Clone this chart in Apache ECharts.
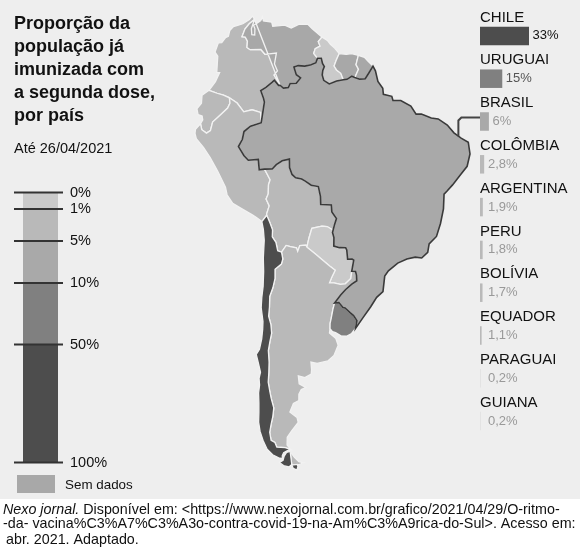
<!DOCTYPE html>
<html>
<head>
<meta charset="utf-8">
<script src="https://cdn.jsdelivr.net/npm/echarts@6/dist/echarts.min.js"></script>
<style>
  html, body { margin: 0; padding: 0; background: #fff; }
  #main { width: 580px; height: 550px; }
</style>
</head>
<body>
<div id="main"></div>
<script>
// dados
var paises = ['CHILE', 'URUGUAI', 'BRASIL', 'COLÔMBIA', 'ARGENTINA', 'PERU', 'BOLÍVIA', 'EQUADOR', 'PARAGUAI', 'GUIANA'];
var imunizados = [33, 15, 6, 2.8, 1.9, 1.8, 1.7, 1.1, 0.2, 0.2];
// faixa da legenda em que cada país aparece pintado no mapa
var faixa = [4, 3, 2, 1, 1, 1, 1, 1, 0, 0];
var semDados = ['VENEZUELA', 'SURINAME', 'GUIANA FRANCESA'];
var faixasLegenda = ['0%', '1%', '5%', '10%', '50%', '100%'];

var cores = ['#cacaca', '#b9b9b9', '#a9a9a9', '#808080', '#4d4d4d'];
var corSemDados = '#a8a8a8';
var corRotulo = ['#999', '#999', '#999', '#555', '#111'];
var FONT = 'Liberation Sans, Arial, sans-serif';

// contornos aproximados (lon, lat)
var coastCol = [[-71.33,11.85],[-71.7,12.45],[-72.2,11.9],[-73.3,11.3],[-74.2,11.1],[-74.9,11.0],[-75.5,10.4],[-75.7,9.5],[-76.2,9.3],[-76.8,8.6],[-77.4,8.6],[-77.9,7.2],[-77.4,6.5],[-77.5,4.0],[-77.0,3.9],[-77.7,2.6],[-78.8,1.4]];
var colEcu = [[-78.8,1.4],[-77.4,0.8],[-76.3,0.4],[-75.3,-0.1]];
var colPer = [[-75.3,-0.1],[-74.0,-1.0],[-72.9,-2.4],[-71.5,-2.2],[-70.1,-2.7],[-70.0,-4.2]];
var colBra = [[-70.0,-4.2],[-69.45,-1.2],[-69.6,-0.6],[-70.05,0.55],[-69.2,1.0],[-68.2,1.7],[-67.8,2.0],[-67.1,1.2],[-66.85,1.2]];
var colVen = [[-66.85,1.2],[-67.4,2.1],[-67.85,2.8],[-67.3,3.4],[-67.8,4.5],[-67.5,6.2],[-69.4,6.1],[-70.1,6.9],[-71.9,7.0],[-72.45,7.4],[-72.4,8.4],[-72.8,9.1],[-73.35,9.2],[-72.9,10.4],[-72.2,11.2],[-71.33,11.85]];
var coastVen = [[-71.33,11.85],[-71.6,11.0],[-71.8,10.4],[-71.7,9.4],[-71.2,9.3],[-71.2,10.3],[-71.45,10.9],[-71.0,11.1],[-70.25,11.6],[-70.0,12.2],[-69.8,11.5],[-68.4,11.2],[-68.2,10.5],[-66.2,10.6],[-65.1,10.1],[-64.2,10.5],[-63.8,10.7],[-62.3,10.6],[-61.6,9.9],[-60.0,8.55]];
var venGuy = [[-60.0,8.55],[-60.6,7.8],[-60.3,7.1],[-61.1,6.7],[-61.35,5.95],[-60.73,5.2]];
var venBra = [[-60.73,5.2],[-61.0,4.5],[-61.8,4.2],[-62.8,4.0],[-63.9,4.1],[-64.6,3.9],[-64.2,2.7],[-63.5,2.2],[-64.2,1.4],[-65.2,1.4],[-65.5,0.8],[-66.3,0.75],[-66.85,1.2]];
var coastGuy = [[-60.0,8.55],[-59.1,8.0],[-58.6,7.4],[-57.9,6.8],[-57.15,5.95]];
var guySur = [[-57.15,5.95],[-57.65,4.9],[-58.0,4.0],[-57.6,3.4],[-56.9,2.9],[-56.5,1.92]];
var guyBra = [[-56.5,1.92],[-57.6,1.7],[-58.8,1.25],[-59.7,1.8],[-59.95,2.6],[-59.85,3.3],[-59.6,3.9],[-59.9,4.4],[-60.1,5.2],[-60.73,5.2]];
var coastSur = [[-57.15,5.95],[-56.0,5.85],[-55.1,6.0],[-54.0,5.75]];
var surFg = [[-54.0,5.75],[-54.4,4.3],[-54.0,3.6],[-54.6,2.33]];
var surBra = [[-54.6,2.33],[-55.1,2.5],[-55.9,2.0],[-56.5,1.92]];
var coastFg = [[-54.0,5.75],[-53.0,5.5],[-52.4,4.9],[-51.6,4.2]];
var fgBra = [[-51.6,4.2],[-52.3,3.1],[-52.9,2.2],[-53.8,2.1],[-54.6,2.33]];
var coastEcu = [[-78.8,1.4],[-80.0,0.8],[-80.1,-0.4],[-80.9,-1.1],[-80.7,-2.0],[-80.0,-2.3],[-79.9,-2.9],[-80.3,-3.4]];
var ecuPer = [[-80.3,-3.4],[-80.1,-4.3],[-79.3,-4.9],[-78.6,-4.6],[-78.2,-3.4],[-77.0,-2.6],[-75.6,-1.6],[-75.2,-0.9],[-75.3,-0.1]];
var coastPer = [[-80.3,-3.4],[-81.2,-4.1],[-81.3,-4.7],[-81.1,-5.5],[-79.9,-6.9],[-78.8,-8.5],[-77.6,-10.6],[-76.4,-13.0],[-76.2,-14.1],[-75.3,-15.4],[-73.6,-16.4],[-72.0,-17.3],[-71.3,-17.7],[-70.4,-18.35]];
var perChl = [[-70.4,-18.35],[-69.5,-17.5]];
var perBol = [[-69.5,-17.5],[-69.5,-17.3],[-69.0,-16.2],[-69.5,-15.2],[-69.1,-14.5],[-69.0,-13.2],[-68.7,-12.5],[-69.6,-10.95]];
var perBra = [[-69.6,-10.95],[-70.5,-11.0],[-70.6,-9.5],[-72.3,-9.5],[-73.0,-8.8],[-73.9,-7.4],[-73.2,-6.4],[-72.9,-5.3],[-71.8,-4.6],[-70.0,-4.2]];
var bolBra = [[-69.6,-10.95],[-68.3,-11.0],[-67.6,-10.4],[-66.6,-9.9],[-65.4,-9.7],[-65.4,-10.9],[-65.0,-11.9],[-64.4,-12.4],[-63.4,-12.6],[-62.8,-12.9],[-61.8,-13.5],[-60.6,-13.7],[-60.25,-15.1],[-60.2,-16.25],[-58.4,-16.3],[-58.3,-17.3],[-57.5,-18.2],[-57.8,-19.0],[-58.16,-20.17]];
var bolPar = [[-58.16,-20.17],[-58.15,-19.8],[-59.1,-19.35],[-60.0,-19.3],[-61.75,-19.6],[-62.3,-21.05],[-62.65,-22.24]];
var bolArg = [[-62.65,-22.24],[-62.8,-21.95],[-63.9,-22.0],[-64.3,-22.8],[-64.5,-22.3],[-65.6,-22.1],[-66.3,-21.9],[-67.18,-22.82]];
var bolChl = [[-67.18,-22.82],[-67.85,-22.6],[-68.1,-21.4],[-68.7,-20.6],[-68.6,-19.6],[-69.0,-18.6],[-69.5,-17.5]];
var parBra = [[-58.16,-20.17],[-57.9,-20.9],[-57.9,-22.1],[-56.9,-22.3],[-55.8,-22.3],[-55.6,-22.6],[-55.4,-23.9],[-54.6,-23.85],[-54.3,-24.0],[-54.59,-25.59]];
var parArg = [[-54.59,-25.59],[-54.7,-26.6],[-55.7,-27.4],[-56.6,-27.5],[-57.8,-27.3],[-58.6,-27.3],[-58.2,-26.5],[-57.6,-25.5],[-58.6,-24.9],[-60.0,-24.0],[-61.2,-23.2],[-62.65,-22.24]];
var argBra = [[-54.59,-25.59],[-53.9,-25.6],[-53.7,-26.1],[-53.6,-26.9],[-54.5,-27.4],[-55.6,-28.2],[-56.5,-29.0],[-57.61,-30.18]];
var argUru = [[-57.61,-30.18],[-57.9,-31.1],[-58.2,-32.4],[-58.4,-33.1],[-58.4,-33.9]];
var coastArg = [[-58.4,-33.9],[-58.5,-34.5],[-57.2,-35.3],[-56.7,-36.3],[-57.5,-37.8],[-58.7,-38.6],[-61.0,-39.0],[-62.3,-38.8],[-62.2,-39.9],[-62.3,-40.6],[-63.7,-41.1],[-65.1,-40.8],[-65.0,-42.0],[-63.6,-42.6],[-64.6,-42.9],[-65.2,-43.6],[-65.3,-44.6],[-66.6,-45.0],[-67.6,-46.3],[-66.0,-47.2],[-65.8,-48.0],[-67.6,-49.3],[-68.9,-50.3],[-69.2,-51.6],[-68.4,-52.35]];
var chlArg = [[-68.4,-52.35],[-69.8,-52.0],[-72.0,-51.8],[-72.3,-51.0],[-73.2,-50.6],[-73.2,-49.3],[-72.5,-48.0],[-71.8,-46.8],[-71.3,-45.5],[-71.6,-44.0],[-71.7,-43.0],[-71.8,-41.5],[-71.4,-40.0],[-71.1,-38.5],[-71.0,-36.8],[-70.5,-35.5],[-70.0,-34.3],[-70.0,-33.0],[-70.3,-31.8],[-70.0,-30.5],[-69.8,-29.0],[-69.1,-27.8],[-68.6,-26.5],[-68.5,-25.2],[-67.3,-24.5],[-67.0,-23.8],[-67.18,-22.82]];
var uruBra = [[-57.61,-30.18],[-56.8,-30.1],[-56.0,-30.8],[-55.6,-30.85],[-54.6,-31.5],[-53.9,-31.9],[-53.2,-32.6],[-53.37,-33.74]];
var coastUru = [[-53.37,-33.74],[-54.1,-34.5],[-55.0,-34.9],[-56.2,-34.9],[-57.3,-34.45],[-57.9,-34.3],[-58.4,-33.9]];
var coastChl = [[-70.4,-18.35],[-70.2,-19.5],[-70.15,-21.0],[-70.5,-23.5],[-70.6,-25.4],[-70.9,-27.5],[-71.3,-29.0],[-71.6,-30.5],[-71.5,-32.5],[-71.7,-33.6],[-72.1,-35.0],[-72.8,-36.5],[-73.6,-37.2],[-73.4,-38.5],[-73.2,-39.9],[-73.7,-40.8],[-73.8,-41.8],[-74.3,-43.0],[-74.6,-44.5],[-75.0,-46.0],[-75.5,-47.5],[-75.6,-49.0],[-75.3,-50.5],[-74.7,-52.0],[-73.5,-53.0],[-72.0,-53.6],[-71.0,-53.8],[-70.9,-53.3],[-70.4,-52.8],[-69.3,-52.5],[-68.4,-52.35]];
var fogoChl = [[-68.6,-52.65],[-69.6,-52.8],[-70.4,-53.4],[-70.9,-54.1],[-72.0,-54.4],[-71.0,-55.0],[-69.5,-55.3],[-68.6,-54.9]];
var ilhasChl = [[-68.6,-55.0],[-67.0,-54.95],[-66.9,-55.3],[-67.3,-55.9],[-68.3,-55.6]];
var fogoArg = [[-68.6,-52.65],[-68.3,-53.0],[-67.6,-53.7],[-66.5,-54.5],[-65.2,-54.7],[-66.5,-55.0],[-68.6,-54.9]];
var coastBra = [[-51.6,4.2],[-51.2,3.5],[-50.8,1.9],[-50.0,0.9],[-49.9,0.0],[-48.5,-0.2],[-48.3,-0.8],[-47.0,-0.7],[-45.3,-1.4],[-44.4,-2.5],[-43.5,-2.4],[-41.8,-2.8],[-40.6,-2.8],[-39.0,-3.5],[-37.8,-4.5],[-36.5,-5.1],[-35.2,-5.5],[-34.8,-7.15],[-35.2,-9.0],[-36.4,-10.5],[-37.6,-12.0],[-38.5,-13.0],[-39.0,-13.5],[-38.9,-15.6],[-39.2,-17.7],[-39.7,-19.6],[-40.9,-20.8],[-41.0,-22.0],[-42.0,-22.9],[-43.2,-22.9],[-44.7,-23.3],[-46.3,-24.0],[-47.9,-25.2],[-48.5,-26.0],[-48.6,-28.2],[-49.7,-29.1],[-50.7,-30.5],[-52.1,-32.2],[-53.37,-33.74]];

function rev(a) { return a.slice().reverse(); }
function ring() { var r = [].concat.apply([], arguments); r.push(r[0]); return r; }
function fecha(a) { return a.concat([a[0]]); }
function feat(name, polys) {
  return { type: 'Feature', properties: { name: name },
    geometry: { type: 'MultiPolygon', coordinates: polys.map(function (p) { return [p]; }) } };
}

var geo = { type: 'FeatureCollection', features: [
  feat('COLÔMBIA', [ring(coastCol, colEcu, colPer, colBra, colVen)]),
  feat('VENEZUELA', [ring(coastVen, venGuy, venBra, rev(colVen))]),
  feat('GUIANA', [ring(coastGuy, guySur, guyBra, rev(venGuy))]),
  feat('SURINAME', [ring(coastSur, surFg, surBra, rev(guySur))]),
  feat('GUIANA FRANCESA', [ring(coastFg, fgBra, rev(surFg))]),
  feat('EQUADOR', [ring(coastEcu, ecuPer, rev(colEcu))]),
  feat('PERU', [ring(coastPer, perChl, perBol, perBra, rev(colPer), rev(ecuPer))]),
  feat('BOLÍVIA', [ring(bolBra, bolPar, bolArg, bolChl, perBol)]),
  feat('PARAGUAI', [ring(parBra, parArg, rev(bolPar))]),
  feat('ARGENTINA', [ring(argBra, argUru, coastArg, chlArg, rev(bolArg), rev(parArg)), fecha(fogoArg)]),
  feat('URUGUAI', [ring(uruBra, coastUru, rev(argUru))]),
  feat('CHILE', [ring(coastChl, chlArg, bolChl, rev(perChl)), fecha(fogoChl), fecha(ilhasChl)]),
  feat('BRASIL', [ring(coastBra, rev(uruBra), rev(argBra), rev(parBra), rev(bolBra), perBra, colBra, rev(venBra), rev(guyBra), rev(surBra), rev(fgBra))])
]};
echarts.registerMap('america-do-sul', geo);

// projeção ortográfica centrada na América do Sul
var LON0 = -60, LAT0 = -20, RAD = Math.PI / 180;
function project(p) {
  var lam = (p[0] - LON0) * RAD, phi = p[1] * RAD, phi0 = LAT0 * RAD;
  var x = Math.cos(phi) * Math.sin(lam);
  var y = Math.cos(phi0) * Math.sin(phi) - Math.sin(phi0) * Math.cos(phi) * Math.cos(lam);
  return [x, -y];
}
function unproject(q) {
  var x = q[0], y = -q[1], phi0 = LAT0 * RAD;
  var rho = Math.sqrt(x * x + y * y);
  if (rho === 0) return [LON0, LAT0];
  var c = Math.asin(Math.min(1, rho));
  var phi = Math.asin(Math.cos(c) * Math.sin(phi0) + y * Math.sin(c) * Math.cos(phi0) / rho);
  var lam = Math.atan2(x * Math.sin(c), rho * Math.cos(c) * Math.cos(phi0) - y * Math.sin(c) * Math.sin(phi0));
  return [LON0 + lam / RAD, phi / RAD];
}

var mapData = paises.map(function (p, i) {
  var d = { name: p, value: imunizados[i], itemStyle: { areaColor: cores[faixa[i]] } };
  if (p === 'BRASIL') d.itemStyle = { areaColor: cores[faixa[i]], borderColor: '#3a3a3a', borderWidth: 1.6 };
  return d;
}).concat(semDados.map(function (p) {
  return { name: p, value: null, itemStyle: { areaColor: corSemDados } };
}));

var barW = 49, maxX = 33;

var myChart = echarts.init(document.getElementById('main'));
var option = {
  animation: false,
  backgroundColor: '#eeeeee',
  textStyle: { fontFamily: FONT },
  title: [{
    text: 'Proporção da\npopulação já\nimunizada com\na segunda dose,\npor país',
    left: 14, top: 13, padding: 0,
    textStyle: { fontSize: 18, fontWeight: 'bold', lineHeight: 23, color: '#111', fontFamily: FONT }
  }, {
    text: 'Até 26/04/2021',
    left: 14, top: 141, padding: 0,
    textStyle: { fontSize: 14.5, fontWeight: 'normal', lineHeight: 15, color: '#111', fontFamily: FONT }
  }],
  grid: { left: 480, top: 14.5, width: barW, height: 428 },
  xAxis: { type: 'value', min: 0, max: maxX, show: false },
  yAxis: {
    type: 'category', data: paises, inverse: true,
    axisLine: { show: false }, axisTick: { show: false }, splitLine: { show: false },
    axisLabel: {
      inside: true, margin: 0, interval: 0, verticalAlign: 'bottom',
      lineHeight: 15, padding: [0, 0, 11, 0], fontSize: 15, color: '#111', fontFamily: FONT
    }
  },
  series: [{
    type: 'map', map: 'america-do-sul',
    projection: { project: project, unproject: unproject },
    left: 195, top: 16, width: 275, height: 454,
    silent: true, selectedMode: false, roam: false,
    label: { show: false }, emphasis: { disabled: true },
    itemStyle: { borderColor: '#f2f2f2', borderWidth: 1.3, areaColor: corSemDados },
    data: mapData
  }, {
    type: 'bar', silent: true, barWidth: 18.5,
    label: {
      show: true, position: 'right', fontSize: 13, fontFamily: FONT,
      formatter: function (p) { return String(p.value).replace('.', ',') + '%'; }
    },
    data: imunizados.map(function (v, i) {
      return {
        value: v,
        itemStyle: { color: cores[faixa[i]] },
        label: { color: corRotulo[faixa[i]], distance: Math.max(3.5, 8 - v / maxX * barW) }
      };
    })
  }]
};
myChart.setOption(option);

// legenda em barra, fundo do rodapé e fonte
var tickY = [192.5, 209, 241, 283, 344.5, 462.5];
var g = [];
for (var i = 0; i < cores.length; i++) {
  g.push({ type: 'rect', shape: { x: 23, y: tickY[i], width: 35, height: tickY[i + 1] - tickY[i] }, style: { fill: cores[i] } });
}
faixasLegenda.forEach(function (t, i) {
  g.push({ type: 'line', shape: { x1: 14, y1: tickY[i], x2: 63, y2: tickY[i] }, style: { stroke: '#333', lineWidth: 2 } });
  g.push({ type: 'text', x: 70, y: tickY[i], style: { text: t, fontSize: 14.5, fontFamily: FONT, fill: '#111', verticalAlign: 'middle' } });
});
g.push({ type: 'rect', shape: { x: 17, y: 475, width: 38, height: 18 }, style: { fill: corSemDados } });
g.push({ type: 'text', x: 65, y: 485, style: { text: 'Sem dados', fontSize: 13.4, fontFamily: FONT, fill: '#111', verticalAlign: 'middle' } });
g.push({ type: 'rect', shape: { x: 0, y: 499, width: 580, height: 51 }, style: { fill: '#ffffff' } });
var fonteTam = 14.3;
g.push({ type: 'text', x: 3, y: 510, style: {
  text: '{i|Nexo jornal.} Disponível em: <https://www.nexojornal.com.br/grafico/2021/04/29/O-ritmo-',
  fontSize: fonteTam, fontFamily: FONT, fill: '#111', verticalAlign: 'middle',
  rich: { i: { fontStyle: 'italic', fontSize: fonteTam, fontFamily: FONT, fill: '#111' } } } });
g.push({ type: 'text', x: 3, y: 524.5, style: {
  text: '-da- vacina%C3%A7%C3%A3o-contra-covid-19-na-Am%C3%A9rica-do-Sul>. Acesso em:',
  fontSize: fonteTam, fontFamily: FONT, fill: '#111', verticalAlign: 'middle' } });
g.push({ type: 'text', x: 6, y: 540, style: {
  text: 'abr. 2021. Adaptado.', fontSize: fonteTam, fontFamily: FONT, fill: '#111', verticalAlign: 'middle' } });

// linha que liga o Brasil à sua barra
var pBr = myChart.convertToPixel({ seriesIndex: 0 }, [-37.0, -4.87]);
var pBar = myChart.convertToPixel({ xAxisIndex: 0, yAxisIndex: 0 }, [0, 'BRASIL']);
if (pBr && pBar) {
  var yl = pBar[1] - 4;
  g.push({ type: 'polyline', shape: { points: [[pBr[0], pBr[1]], [pBr[0], yl + 3], [pBr[0] + 3, yl], [pBar[0], yl]] },
    style: { stroke: '#444', lineWidth: 2, fill: null }, z: 10 });
}
myChart.setOption({ graphic: { elements: g } });
</script>
</body>
</html>
